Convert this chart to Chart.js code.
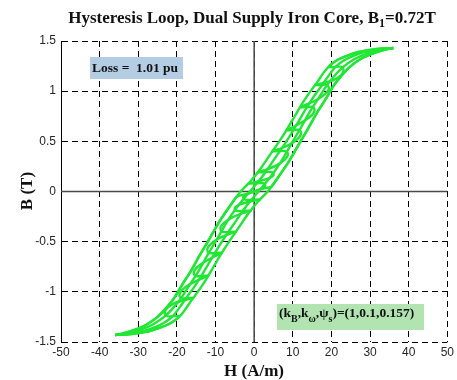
<!DOCTYPE html>
<html>
<head>
<meta charset="utf-8">
<script src="https://cdn.jsdelivr.net/npm/chart.js@4.4.0/dist/chart.umd.min.js"></script>
<style>
  html, body { margin: 0; padding: 0; background: #fff; }
  #wrap { width: 457px; height: 380px; }
</style>
</head>
<body>
<div id="wrap"><canvas id="loop" width="457" height="380"></canvas></div>
<script>
// --- DATA ---
// outer (major) loop, descending branch: upper tip -> lower tip
const outerHDown = [36, 33, 30, 27, 24.5, 22, 20, 18.3, 16.5, 14.6, 12.5, 10.5, 8.5, 6.5, 4, 1.5, -1, -3.5,
  -6, -9, -12, -14, -16.5, -18.5, -20.5, -22.5, -25, -28, -31, -34, -36];
const outerBDown = [1.43, 1.425, 1.41, 1.39, 1.36, 1.32, 1.27, 1.2, 1.1, 1.0, 0.88, 0.75, 0.62, 0.5, 0.36, 0.22, 0.1, 0,
  -0.13, -0.3, -0.5, -0.63, -0.8, -0.92, -1.05, -1.15, -1.25, -1.33, -1.38, -1.415, -1.43];
// outer loop, ascending branch: lower tip -> upper tip
const outerHUp = [-36, -33, -30, -27, -24.5, -22, -20, -18.3, -16.5, -14.6, -12.5, -10.5, -8.5, -6.5, -4, -1.5, 1, 3.5,
  6, 9, 12, 14, 16.5, 18.5, 20.5, 22.5, 25, 28, 31, 34, 36];
const outerBUp = [-1.43, -1.425, -1.41, -1.39, -1.36, -1.32, -1.27, -1.2, -1.1, -1.0, -0.88, -0.75, -0.62, -0.5, -0.36, -0.22, -0.1, 0,
  0.13, 0.3, 0.5, 0.63, 0.8, 0.92, 1.05, 1.15, 1.25, 1.33, 1.38, 1.415, 1.43];

// a second, slightly narrower cycle inside the band
const innerHDown = [36, 32, 28.5, 25.5, 23, 21, 19.2, 17.4, 15.5, 13.5, 11.5, 9.5, 7.5, 5, 2.5, 0, -2, -4.5,
  -7, -10, -12, -14.5, -16.5, -18.5, -20.5, -23, -26, -29.5, -33, -36];
const innerBDown = [1.43, 1.415, 1.39, 1.35, 1.3, 1.24, 1.15, 1.05, 0.95, 0.83, 0.7, 0.57, 0.45, 0.31, 0.17, 0.05, -0.04, -0.16,
  -0.3, -0.5, -0.63, -0.8, -0.92, -1.04, -1.14, -1.24, -1.32, -1.38, -1.415, -1.43];
const innerHUp = [-36, -32, -28.5, -25.5, -23, -21, -19.2, -17.4, -15.5, -13.5, -11.5, -9.5, -7.5, -5, -2.5, 0, 2, 4.5,
  7, 10, 12, 14.5, 16.5, 18.5, 20.5, 23, 26, 29.5, 33, 36];
const innerBUp = [-1.43, -1.415, -1.39, -1.35, -1.3, -1.24, -1.15, -1.05, -0.95, -0.83, -0.7, -0.57, -0.45, -0.31, -0.17, -0.05, 0.04, 0.16,
  0.3, 0.5, 0.63, 0.8, 0.92, 1.04, 1.14, 1.24, 1.32, 1.38, 1.415, 1.43];

// trace with the minor loops, descending part
const hookHDown = [36, 33, 30, 27, 24.5, 22, 20, 19.3,
  22.3, 23.0, 23.1, 22.5, 20.5, 17.8, 15.8,
  18.5, 19.2, 19.3, 18.6, 16.5, 13.8, 11.9,
  14.8, 15.5, 15.6, 14.9, 12.8, 10.2, 8.35,
  11.3, 12.0, 12.1, 11.4, 9.3, 6.6, 4.7,
  7.9, 8.6, 8.7, 8.0, 5.8, 3.0, 0.9,
  4.3, 5.0, 5.0, 3.8, 1.0, -1.5,
  2.0, 2.8, 2.8, 1.5, -1.5, -4.5, -6,
  -9, -12, -14, -16.5, -18.5, -20.5, -22.5, -25, -28, -31, -34, -36];
const hookBDown = [1.43, 1.425, 1.41, 1.39, 1.36, 1.32, 1.27, 1.24,
  1.245, 1.23, 1.20, 1.16, 1.11, 1.08, 1.06,
  1.065, 1.05, 1.02, 0.98, 0.92, 0.87, 0.84,
  0.845, 0.83, 0.80, 0.76, 0.70, 0.645, 0.61,
  0.615, 0.60, 0.57, 0.53, 0.47, 0.425, 0.40,
  0.405, 0.39, 0.36, 0.32, 0.26, 0.215, 0.19,
  0.195, 0.18, 0.16, 0.13, 0.10, 0.08,
  0.085, 0.07, 0.05, 0.02, -0.02, -0.05, -0.13,
  -0.3, -0.5, -0.63, -0.8, -0.92, -1.05, -1.15, -1.25, -1.33, -1.38, -1.415, -1.43];
// trace with the minor loops, ascending part
const hookHUp = [-36, -33, -30, -27, -24.5, -22, -20, -19.3,
  -22.3, -23.0, -23.1, -22.5, -20.5, -17.8, -15.8,
  -18.5, -19.2, -19.3, -18.6, -16.5, -13.8, -11.9,
  -14.8, -15.5, -15.6, -14.9, -12.8, -10.2, -8.35,
  -11.3, -12.0, -12.1, -11.4, -9.3, -6.6, -4.7,
  -7.9, -8.6, -8.7, -8.0, -5.8, -3.0, -0.9,
  -4.3, -5.0, -5.0, -3.8, -1.0, 1.5,
  -2.0, -2.8, -2.8, -1.5, 1.5, 4.5, 6,
  9, 12, 14, 16.5, 18.5, 20.5, 22.5, 25, 28, 31, 34, 36];
const hookBUp = [-1.43, -1.425, -1.41, -1.39, -1.36, -1.32, -1.27, -1.24,
  -1.245, -1.23, -1.20, -1.16, -1.11, -1.08, -1.06,
  -1.065, -1.05, -1.02, -0.98, -0.92, -0.87, -0.84,
  -0.845, -0.83, -0.80, -0.76, -0.70, -0.645, -0.61,
  -0.615, -0.60, -0.57, -0.53, -0.47, -0.425, -0.40,
  -0.405, -0.39, -0.36, -0.32, -0.26, -0.215, -0.19,
  -0.195, -0.18, -0.16, -0.13, -0.10, -0.08,
  -0.085, -0.07, -0.05, -0.02, 0.02, 0.05, 0.13,
  0.3, 0.5, 0.63, 0.8, 0.92, 1.05, 1.15, 1.25, 1.33, 1.38, 1.415, 1.43];

const xTicks = [-50, -40, -30, -20, -10, 0, 10, 20, 30, 40, 50];
const yTicks = [-1.5, -1, -0.5, 0, 0.5, 1, 1.5];

const titleParts = [['Hysteresis Loop, Dual Supply Iron Core, B', 0], ['1', 1], ['=0.72T', 0]];
const paramParts = [['(k', 0], ['B', 1], [',k', 0], ['\u03C9', 1], [',\u03C8', 0], ['s', 1], [')=(1,0.1,0.157)', 0]];
const lossText = 'Loss =  1.01 pu';

// --- HELPERS ---
const SERIF = '"Liberation Serif", "DejaVu Serif", serif';
const GREEN = 'rgb(32, 230, 52)';

function toPoints(hs, bs) {
  return hs.map((h, i) => ({ x: h, y: bs[i] }));
}

function lineSet(points, tension) {
  return {
    data: points,
    showLine: true,
    borderColor: GREEN,
    borderWidth: 2.4,
    pointRadius: 0,
    tension: tension
  };
}

// text with subscripts
function drawRich(ctx, parts, x, y, size, subSize, subDrop, align) {
  let total = 0;
  parts.forEach(([t, sub]) => {
    ctx.font = 'bold ' + (sub ? subSize : size) + 'px ' + SERIF;
    total += ctx.measureText(t).width;
  });
  let cx = align === 'center' ? x - total / 2 : x;
  ctx.textAlign = 'left';
  ctx.textBaseline = 'alphabetic';
  parts.forEach(([t, sub]) => {
    ctx.font = 'bold ' + (sub ? subSize : size) + 'px ' + SERIF;
    ctx.fillText(t, cx, sub ? y + subDrop : y);
    cx += ctx.measureText(t).width;
  });
}

const decorPlugin = {
  id: 'decor',
  beforeDatasetsDraw(chart) {
    // solid zero lines, under the loop
    const { ctx, chartArea, scales } = chart;
    const x0 = scales.x.getPixelForValue(0);
    const y0 = scales.y.getPixelForValue(0);
    ctx.save();
    ctx.strokeStyle = '#4a4a4a';
    ctx.lineWidth = 1.5;
    ctx.beginPath();
    ctx.moveTo(x0, chartArea.top);
    ctx.lineTo(x0, chartArea.bottom);
    ctx.moveTo(chartArea.left, y0);
    ctx.lineTo(chartArea.right, y0);
    ctx.stroke();
    ctx.restore();
  },
  afterDraw(chart) {
    const { ctx } = chart;
    ctx.save();
    ctx.fillStyle = '#111';
    drawRich(ctx, titleParts, 252, 23, 17, 12, 4, 'center');

    // axis labels
    ctx.font = 'bold 17px ' + SERIF;
    ctx.textAlign = 'center';
    ctx.fillText('H (A/m)', 254, 376);
    ctx.save();
    ctx.translate(32, 191);
    ctx.rotate(-Math.PI / 2);
    ctx.fillText('B (T)', 0, 0);
    ctx.restore();

    // loss box
    ctx.fillStyle = '#b4cce4';
    ctx.fillRect(90, 57, 93, 22);
    ctx.fillStyle = '#111';
    ctx.font = 'bold 13.5px ' + SERIF;
    ctx.textAlign = 'left';
    ctx.fillText(lossText, 92, 72);

    // parameter box
    ctx.fillStyle = '#b2e4b2';
    ctx.fillRect(277, 304, 147, 26);
    ctx.fillStyle = '#111';
    drawRich(ctx, paramParts, 279, 317, 13.5, 10, 5, 'left');
    ctx.restore();
  }
};

// --- CHART ---
new Chart(document.getElementById('loop'), {
  type: 'scatter',
  data: {
    datasets: [
      lineSet(toPoints(outerHDown, outerBDown), 0.25),
      lineSet(toPoints(outerHUp, outerBUp), 0.25),
      lineSet(toPoints(innerHDown, innerBDown), 0.25),
      lineSet(toPoints(innerHUp, innerBUp), 0.25),
      lineSet(toPoints(hookHDown, hookBDown), 0.15),
      lineSet(toPoints(hookHUp, hookBUp), 0.15)
    ]
  },
  options: {
    responsive: false,
    animation: false,
    devicePixelRatio: 1,
    layout: { padding: { top: 41, right: 9, bottom: 0, left: 0 } },
    plugins: {
      legend: { display: false },
      tooltip: { enabled: false }
    },
    scales: {
      x: {
        type: 'linear',
        min: -50,
        max: 50,
        afterFit: (scale) => { scale.height = 38; },
        afterBuildTicks: (scale) => { scale.ticks = xTicks.map((v) => ({ value: v })); },
        ticks: {
          color: '#262626',
          font: { family: '"Liberation Sans", Arial, sans-serif', size: 12 },
          padding: 3,
          maxRotation: 0,
          callback: (v) => String(v)
        },
        grid: { color: '#000', lineWidth: 1, drawTicks: false },
        border: { display: false, dash: [6, 4] }
      },
      y: {
        type: 'linear',
        min: -1.5,
        max: 1.5,
        afterFit: (scale) => { scale.width = 61; },
        afterBuildTicks: (scale) => { scale.ticks = yTicks.map((v) => ({ value: v })); },
        ticks: {
          color: '#262626',
          font: { family: '"Liberation Sans", Arial, sans-serif', size: 12 },
          padding: 5,
          callback: (v) => String(v)
        },
        grid: { color: '#000', lineWidth: 1, drawTicks: false },
        border: { display: true, color: '#000', width: 1, dash: [6, 4] }
      }
    }
  },
  plugins: [decorPlugin]
});
</script>
</body>
</html>
